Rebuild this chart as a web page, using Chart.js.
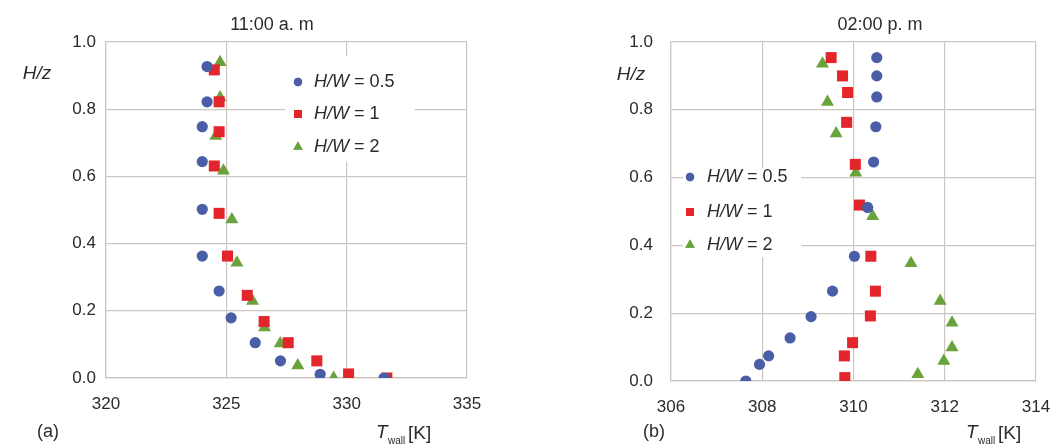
<!DOCTYPE html>
<html>
<head>
<meta charset="utf-8">
<script src="https://cdn.jsdelivr.net/npm/chart.js@4.4.1/dist/chart.umd.min.js"></script>
<style>
  body { margin: 0; background: #fff; }
  #wrap { position: relative; width: 1056px; height: 445px; }
  canvas { position: absolute; top: 0; }
</style>
</head>
<body>
<div id="wrap">
  <canvas id="chartA" width="528" height="445" style="left:0"></canvas>
  <canvas id="chartB" width="528" height="445" style="left:528px"></canvas>
</div>
<script>
// (a) 11:00 a.m. - wall temperature [K] vs H/z
const tA_05 = [324.2, 324.2, 324.0, 324.0, 324.0, 324.0, 324.7, 325.2, 326.2, 327.25, 328.9, 331.55];
const hA_05 = [0.927, 0.822, 0.748, 0.644, 0.502, 0.363, 0.259, 0.179, 0.105, 0.051, 0.011, 0.0];
const tA_1  = [324.5, 324.7, 324.7, 324.5, 324.7, 325.05, 325.87, 326.57, 327.57, 328.76, 330.08, 331.67];
const hA_1  = [0.917, 0.822, 0.733, 0.631, 0.49, 0.363, 0.246, 0.168, 0.105, 0.051, 0.012, 0.0];
const tA_2  = [324.74, 324.74, 324.56, 324.88, 325.23, 325.44, 326.09, 326.59, 327.24, 327.97, 329.46];
const hA_2  = [0.94, 0.835, 0.72, 0.617, 0.472, 0.343, 0.229, 0.15, 0.103, 0.037, 0.0];

// (b) 02:00 p.m.
const tB_05 = [310.51, 310.51, 310.51, 310.49, 310.44, 310.31, 310.02, 309.54, 309.07, 308.61, 308.14, 307.94, 307.64];
const hB_05 = [0.954, 0.9, 0.838, 0.75, 0.646, 0.512, 0.368, 0.265, 0.19, 0.127, 0.074, 0.049, 0.0];
const tB_1  = [309.51, 309.76, 309.87, 309.85, 310.04, 310.13, 310.38, 310.48, 310.37, 309.98, 309.8, 309.81];
const hB_1  = [0.954, 0.9, 0.851, 0.763, 0.639, 0.519, 0.368, 0.265, 0.192, 0.113, 0.074, 0.01];
const tB_2  = [309.32, 309.43, 309.62, 310.05, 310.42, 311.26, 311.9, 312.16, 312.16, 311.98, 311.41];
const hB_2  = [0.936, 0.823, 0.73, 0.614, 0.486, 0.347, 0.236, 0.172, 0.099, 0.059, 0.02];

const seriesNames = ["0.5", "1", "2"];
const xTicksA = [320, 335, 5];
const xTicksB = [306, 314, 2];

const BLUE = "#4a5ea8", RED = "#e3262b", GREEN = "#6aa33c";
const GRID = "#ccc6c0", TEXT = "#2b2b2b";
const FONT = "'Liberation Sans', Arial, sans-serif";

const pts = (xs, ys) => xs.map((x, i) => ({ x: x, y: ys[i] }));

function sets(t05, h05, t1, h1, t2, h2) {
  return [
    { label: seriesNames[0], data: pts(t05, h05), pointStyle: "circle", pointRadius: 5.6, backgroundColor: BLUE, borderColor: BLUE, borderWidth: 0 },
    { label: seriesNames[1], data: pts(t1, h1), pointStyle: "rect", pointRadius: 7.8, backgroundColor: RED, borderColor: RED, borderWidth: 0 },
    { label: seriesNames[2], data: pts(t2, h2), pointStyle: "triangle", pointRadius: 7.5, backgroundColor: GREEN, borderColor: GREEN, borderWidth: 0 }
  ];
}

// texts and the in-plot legend
function overlay(o) {
  return {
    id: "overlay",
    beforeDatasetsDraw(chart) {
      const c = chart.ctx;
      c.save();
      c.fillStyle = "#fff";
      c.fillRect(o.box[0], o.box[1], o.box[2], o.box[3]);
      const styles = [["circle", 4.2, BLUE], ["rect", 5.6, RED], ["triangle", 5.5, GREEN]];
      styles.forEach((s, i) => {
        const y = o.rows[i];
        c.fillStyle = s[2]; c.strokeStyle = s[2]; c.lineWidth = 0;
        Chart.helpers.drawPoint(c, { pointStyle: s[0], radius: s[1], borderWidth: 0 }, o.mx, y);
        c.fill();
        c.fillStyle = TEXT;
        c.textBaseline = "middle"; c.textAlign = "left";
        c.font = "italic 18px " + FONT;
        c.fillText("H/W", o.tx, y);
        const w = c.measureText("H/W").width;
        c.font = "18px " + FONT;
        c.fillText(" = " + seriesNames[i], o.tx + w, y);
      });
      c.restore();
    },
    afterDraw(chart) {
      const c = chart.ctx;
      c.save();
      c.fillStyle = TEXT;
      c.textBaseline = "middle";
      c.textAlign = "center";
      c.font = "18px " + FONT;
      c.fillText(o.title, o.titleX, 25);
      c.font = "italic 19px " + FONT;
      c.fillText("H/z", o.hzX, o.hzY);
      c.font = "18px " + FONT;
      c.fillText(o.tag, o.tagX, 432);
      // T_wall [K]
      c.textAlign = "left";
      c.textBaseline = "alphabetic";
      c.font = "italic 19px " + FONT;
      c.fillText("T", o.tX, 438);
      c.font = "10px " + FONT;
      c.fillText("wall", o.tX + 12, 444);
      c.font = "19px " + FONT;
      c.fillText("[K]", o.tX + 32, 439);
      c.restore();
    }
  };
}

function makeChart(id, datasets, xt, lay, ov) {
  return new Chart(document.getElementById(id), {
    type: "scatter",
    data: { datasets: datasets },
    options: {
      responsive: false,
      animation: false,
      layout: { padding: { left: 0, right: lay.right, top: 42, bottom: 0 } },
      plugins: { legend: { display: false }, tooltip: { enabled: false } },
      scales: {
        x: {
          type: "linear", min: xt[0], max: xt[1],
          ticks: { stepSize: xt[2], color: TEXT, font: { family: FONT, size: 17 }, padding: 16 },
          grid: { color: GRID, lineWidth: 1.2, drawTicks: false },
          border: { color: GRID, width: 1.2 },
          afterFit: s => { s.height = lay.xh; s.paddingLeft = 0; s.paddingRight = 0; }
        },
        y: {
          min: 0, max: 1,
          ticks: { stepSize: 0.2, color: TEXT, font: { family: FONT, size: 17 }, padding: lay.yPad, callback: v => v.toFixed(1) },
          grid: { color: GRID, lineWidth: 1.2, drawTicks: false },
          border: { color: GRID, width: 1.2 },
          afterFit: s => { s.width = lay.yw; s.paddingTop = 0; s.paddingBottom = 0; }
        }
      }
    },
    plugins: [overlay(ov)]
  });
}

makeChart("chartA", sets(tA_05, hA_05, tA_1, hA_1, tA_2, hA_2), xTicksA,
  { right: 61, xh: 67, yw: 106, yPad: 10 },
  { title: "11:00 a. m", titleX: 272, hzX: 37, hzY: 74, tag: "(a)", tagX: 48, tX: 376,
    box: [285, 56, 130, 106], mx: 298, tx: 314, rows: [82, 114, 147] });

makeChart("chartB", sets(tB_05, hB_05, tB_1, hB_1, tB_2, hB_2), xTicksB,
  { right: 20, xh: 64, yw: 143, yPad: 18 },
  { title: "02:00 p. m", titleX: 352, hzX: 103, hzY: 75, tag: "(b)", tagX: 126, tX: 438,
    box: [155, 168, 118, 89], mx: 162, tx: 179, rows: [177, 212, 245] });
</script>
</body>
</html>
